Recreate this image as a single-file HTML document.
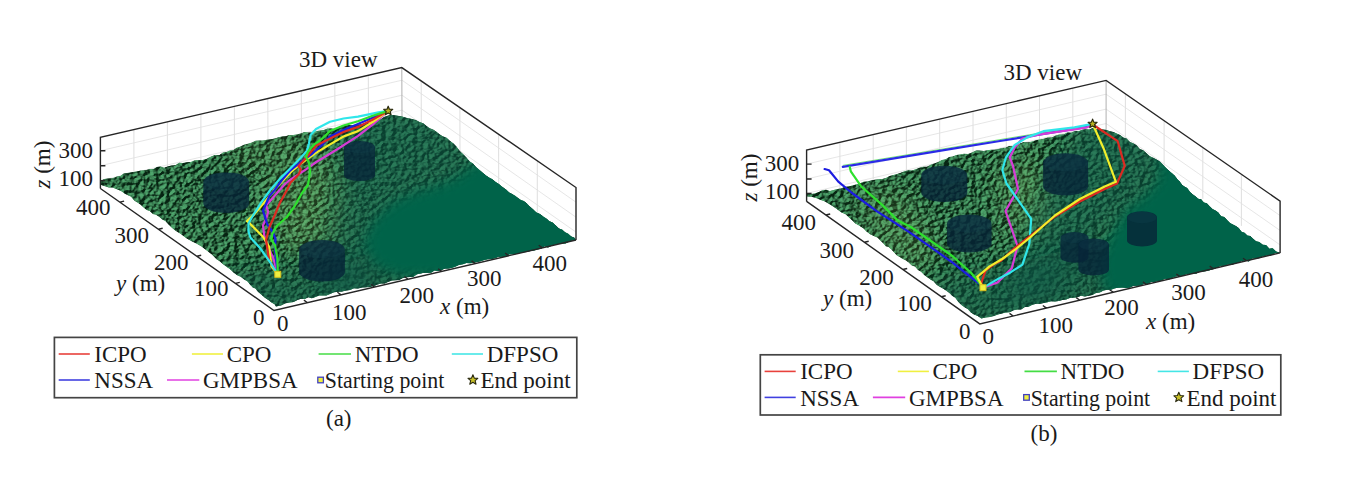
<!DOCTYPE html><html><head><meta charset="utf-8"><style>html,body{margin:0;padding:0;background:#fff;}body{width:1358px;height:482px;overflow:hidden;}svg{display:block;}text{font-family:"Liberation Serif",serif;font-size:23px;fill:#1a1a1a;}</style></head><body>
<svg width="1358" height="482" viewBox="0 0 1358 482">
<rect width="1358" height="482" fill="#fff"/>
<defs>
<filter id="bl6" x="-20%" y="-20%" width="140%" height="140%"><feGaussianBlur stdDeviation="6"/></filter>
<filter id="bl12" x="-30%" y="-30%" width="160%" height="160%"><feGaussianBlur stdDeviation="12"/></filter>
<filter id="tex" x="0" y="0" width="100%" height="100%" color-interpolation-filters="sRGB">
<feTurbulence type="fractalNoise" baseFrequency="0.19 0.26" numOctaves="3" seed="5" result="h"/>
<feDiffuseLighting in="h" surfaceScale="5" diffuseConstant="1.0" lighting-color="#6cc288" result="lit">
<feDistantLight azimuth="210" elevation="38"/>
</feDiffuseLighting>
<feColorMatrix in="lit" type="matrix" values="0.68 0 0 0 0.025  0 0.68 0 0 0.14  0 0 0.68 0 0.07  0 0 0 1 0" result="c"/>
<feGaussianBlur in="c" stdDeviation="0.45"/>
</filter>
</defs>
<polygon points="100.4,188.5 100.4,137.4 401.8,67.6 402,118" fill="#fff"/>
<path d="M133.9 180.7L133.9 129.6M167.4 172.8L167.4 121.9M200.9 165L200.9 114.1M234.4 157.2L234.4 106.4M268 149.3L267.8 98.6M301.5 141.5L301.3 90.9M335 133.7L334.8 83.1M368.5 125.8L368.3 75.4M421.3 131.6L421.2 80.9M460 158.7L459.9 107.6M498.7 185.8L498.6 134.2M537.3 212.9L537.3 160.9" stroke="#d6d6d6" stroke-width="0.8" fill="none"/>
<path d="M100.4 180.6L402 110.1L576 232.1M100.4 165.7L402 95.2L576 217.2M100.4 150.7L402 80.2L576 202.2" stroke="#e0e0e0" stroke-width="0.8" fill="none"/>
<path d="M402 118L401.8 67.6" stroke="#b0b0b0" stroke-width="1"/>
<clipPath id="ca"><polygon points="100.4,181 104.2,178.9 108,178.5 112.5,178.3 117,176.5 120.3,175.9 123.7,173.6 127,173 131.8,172.3 136.5,171.6 141,170.6 145.5,170.2 150,169 153.5,169.1 157,167.1 160.6,166.4 164.1,167.7 167.6,166.4 171.4,165.4 175.3,165.3 179.2,162.8 183,163 186.9,162.2 190.9,162.1 194.9,160.3 198.8,160.2 202.5,160.1 206.3,158.9 210,157 214.8,155 219.5,155 223,152.5 226.5,152.1 230,150.5 233.3,150.2 236.7,147.7 240,146.7 244,144.7 248,143.7 252,142.5 255.6,140.8 259.2,140.6 262.8,140.5 266.9,139.7 270.9,139.2 275,138.5 278.5,137.2 282.1,136.4 285.6,136.3 289.4,135.1 293.2,135 297,134.5 300.8,133.4 304.6,132.1 308.4,132.5 312.3,132.6 316.1,131.3 320,130.5 323.8,130.1 327.5,128.4 331.3,128.4 335.2,128.9 339.1,127.9 343,126.5 346.7,125.2 350.3,125.1 354,125 358,124.8 362,124.1 366,123 369.6,123.1 373.3,121.2 376.9,120.5 380.4,119.5 384,117 390.6,114.8 396,115.5 402,116.5 407,118.1 412,119 415.7,120 419.5,122 423.2,123.2 426.5,126.1 429.7,128.2 433,129.5 436.4,131.8 439.8,134.4 443.2,136.5 446.6,137.7 450,141 453.2,143.2 456.4,146.5 459.7,150.9 463,154 466.4,157.5 469.7,161.4 472.9,163.5 476,167 479.5,170.1 483,173 486,175.6 489,177.6 492,179.1 495,181.5 498.8,184.1 502.5,187 506.3,189.7 509.2,192.4 512.1,193.9 515.1,195.7 518,198 520.9,200.1 523.8,201.1 526.6,203.2 529.5,206.3 533,209.3 536.5,212.5 540,214 543.2,216.6 546.3,218.6 549.5,221.2 552.6,222.5 555.8,225.4 558.9,228.5 562,229.5 565.1,232.2 568.2,233.7 571.3,236.5 574.4,237.8 576,240 572.5,240.2 569,241.7 565.5,243.4 562,243.4 558.5,244 555,244.4 551.5,245.8 548,247.5 544.5,246.2 541,248.7 537.5,249.6 534,250.6 530.5,251.1 527,252.1 523.5,252.2 520,253 516.4,253.9 512.9,254.3 509.3,254.2 505.7,256.8 502.1,256.8 498.6,256.8 495,258.2 491.4,258.9 487.9,259.3 484.3,260 480.7,261.2 477.1,262.1 473.6,262.8 470,263.2 466.4,263 462.9,264.2 459.3,264.8 455.7,266.5 452.1,267.8 448.6,268.4 445,268.5 441.5,270 438,270.9 434.5,270.5 431,272.7 427.5,273.1 424,272.7 420.5,273.4 417,274.2 413.5,276.7 410,277 406.4,277.3 402.8,277.9 399.2,280 395.6,280.3 392,280.6 388.4,281.7 384.8,283.4 381.2,283.5 377.6,284.6 374,286 370,287.1 366,287.2 362,287.6 358,288.6 354,288.3 350,290 346,290.6 342,291.4 338,291.7 334,292.3 330,294 326.4,295.6 322.8,295.5 319.2,295.5 315.5,297.1 311.9,298.3 308.3,297.2 304.7,299 301,298.8 297.4,300 293.7,302.1 290,302.5 285.5,303.3 281,305.5 276,306.5 274.6,304.2 271.5,302.6 268.4,300.1 264.9,297.7 261.5,294.7 258,291.8 255.4,288.6 252.8,287.6 250.2,284.7 247.6,281.4 244.2,279.4 240.7,276.7 237.3,275.2 233.8,272.8 230.4,269.4 226.9,266.9 223.4,264.5 220,261.4 216.5,259.2 211.9,254.6 206.7,250.5 201.5,246.5 196.3,243.5 191.1,241.1 186,238 180.8,233.9 175.6,230.8 172.1,227.9 168.5,224.5 165.3,221 162.2,219.5 159.1,216.7 156,214.8 152.9,214 149.8,211.1 146.7,210.1 143.6,207.4 140.4,204.5 137.3,202.4 134.2,200.4 131.1,196.8 124.9,193.7 121.8,191.4 118.7,190 112.4,187.4 108.7,187.6 104.9,186.3 101.2,185 100.4,184"/></clipPath>
<g clip-path="url(#ca)">
<polygon points="100.4,181 104.2,178.9 108,178.5 112.5,178.3 117,176.5 120.3,175.9 123.7,173.6 127,173 131.8,172.3 136.5,171.6 141,170.6 145.5,170.2 150,169 153.5,169.1 157,167.1 160.6,166.4 164.1,167.7 167.6,166.4 171.4,165.4 175.3,165.3 179.2,162.8 183,163 186.9,162.2 190.9,162.1 194.9,160.3 198.8,160.2 202.5,160.1 206.3,158.9 210,157 214.8,155 219.5,155 223,152.5 226.5,152.1 230,150.5 233.3,150.2 236.7,147.7 240,146.7 244,144.7 248,143.7 252,142.5 255.6,140.8 259.2,140.6 262.8,140.5 266.9,139.7 270.9,139.2 275,138.5 278.5,137.2 282.1,136.4 285.6,136.3 289.4,135.1 293.2,135 297,134.5 300.8,133.4 304.6,132.1 308.4,132.5 312.3,132.6 316.1,131.3 320,130.5 323.8,130.1 327.5,128.4 331.3,128.4 335.2,128.9 339.1,127.9 343,126.5 346.7,125.2 350.3,125.1 354,125 358,124.8 362,124.1 366,123 369.6,123.1 373.3,121.2 376.9,120.5 380.4,119.5 384,117 390.6,114.8 396,115.5 402,116.5 407,118.1 412,119 415.7,120 419.5,122 423.2,123.2 426.5,126.1 429.7,128.2 433,129.5 436.4,131.8 439.8,134.4 443.2,136.5 446.6,137.7 450,141 453.2,143.2 456.4,146.5 459.7,150.9 463,154 466.4,157.5 469.7,161.4 472.9,163.5 476,167 479.5,170.1 483,173 486,175.6 489,177.6 492,179.1 495,181.5 498.8,184.1 502.5,187 506.3,189.7 509.2,192.4 512.1,193.9 515.1,195.7 518,198 520.9,200.1 523.8,201.1 526.6,203.2 529.5,206.3 533,209.3 536.5,212.5 540,214 543.2,216.6 546.3,218.6 549.5,221.2 552.6,222.5 555.8,225.4 558.9,228.5 562,229.5 565.1,232.2 568.2,233.7 571.3,236.5 574.4,237.8 576,240 572.5,240.2 569,241.7 565.5,243.4 562,243.4 558.5,244 555,244.4 551.5,245.8 548,247.5 544.5,246.2 541,248.7 537.5,249.6 534,250.6 530.5,251.1 527,252.1 523.5,252.2 520,253 516.4,253.9 512.9,254.3 509.3,254.2 505.7,256.8 502.1,256.8 498.6,256.8 495,258.2 491.4,258.9 487.9,259.3 484.3,260 480.7,261.2 477.1,262.1 473.6,262.8 470,263.2 466.4,263 462.9,264.2 459.3,264.8 455.7,266.5 452.1,267.8 448.6,268.4 445,268.5 441.5,270 438,270.9 434.5,270.5 431,272.7 427.5,273.1 424,272.7 420.5,273.4 417,274.2 413.5,276.7 410,277 406.4,277.3 402.8,277.9 399.2,280 395.6,280.3 392,280.6 388.4,281.7 384.8,283.4 381.2,283.5 377.6,284.6 374,286 370,287.1 366,287.2 362,287.6 358,288.6 354,288.3 350,290 346,290.6 342,291.4 338,291.7 334,292.3 330,294 326.4,295.6 322.8,295.5 319.2,295.5 315.5,297.1 311.9,298.3 308.3,297.2 304.7,299 301,298.8 297.4,300 293.7,302.1 290,302.5 285.5,303.3 281,305.5 276,306.5 274.6,304.2 271.5,302.6 268.4,300.1 264.9,297.7 261.5,294.7 258,291.8 255.4,288.6 252.8,287.6 250.2,284.7 247.6,281.4 244.2,279.4 240.7,276.7 237.3,275.2 233.8,272.8 230.4,269.4 226.9,266.9 223.4,264.5 220,261.4 216.5,259.2 211.9,254.6 206.7,250.5 201.5,246.5 196.3,243.5 191.1,241.1 186,238 180.8,233.9 175.6,230.8 172.1,227.9 168.5,224.5 165.3,221 162.2,219.5 159.1,216.7 156,214.8 152.9,214 149.8,211.1 146.7,210.1 143.6,207.4 140.4,204.5 137.3,202.4 134.2,200.4 131.1,196.8 124.9,193.7 121.8,191.4 118.7,190 112.4,187.4 108.7,187.6 104.9,186.3 101.2,185 100.4,184" fill="#2a7444"/>
<rect x="90" y="60" width="490" height="270" fill="#000" filter="url(#tex)"/>
<polygon points="265,175 330,150 350,190 340,250 290,255 265,220" fill="#c8dc70" opacity="0.13" filter="url(#bl12)"/>
<polygon points="225,150 300,132 310,150 240,170" fill="#c8dc70" opacity="0.13" filter="url(#bl12)"/>
<polygon points="345,105 430,105 490,160 470,200 400,240 360,300 320,300 335,200" fill="#08584a" opacity="0.55" filter="url(#bl12)"/>
<polygon points="215,300 222,272 260,264 300,268 340,262 380,250 420,245 460,250 460,300 280,325" fill="#085444" opacity="0.55" filter="url(#bl12)"/>
<polygon points="468,168 480,160 520,170 600,215 600,262 450,290 440,276 400,276 375,265 364,242 375,220 392,203 415,193 440,185 458,177" fill="#03634a" filter="url(#bl6)"/>
</g>
<path d="M203.3 181.7A22.9 9.3 0 0 1 249.1 181.7L249.1 203.7A22.9 9.3 0 0 1 203.3 203.7Z" fill="#062438" opacity="0.8"/>
<ellipse cx="226.2" cy="181.7" rx="22.4" ry="9" fill="#184a58" opacity="0.22"/>
<path d="M344 147.3A15.5 6.3 0 0 1 375 147.3L375 174.7A15.5 6.3 0 0 1 344 174.7Z" fill="#062438" opacity="0.8"/>
<ellipse cx="359.5" cy="147.3" rx="15" ry="6" fill="#184a58" opacity="0.22"/>
<path d="M299.1 249.3A22.9 9.3 0 0 1 344.9 249.3L344.9 272.2A22.9 9.3 0 0 1 299.1 272.2Z" fill="#062438" opacity="0.8"/>
<ellipse cx="322" cy="249.3" rx="22.4" ry="9" fill="#184a58" opacity="0.22"/>
<polyline points="277.8,274.3 273.2,258 265.1,240 264,233.6 263,225.3 266.1,219.1 268.2,211.8 266.1,205.6 279.6,190 285.6,183.5 290.4,179.6 306,169.3 316.3,162 326.7,155.8 340,147.5 358,135.8 372.6,124.7 388.2,110.9" fill="none" stroke="#d63cd6" stroke-width="2.2" stroke-linejoin="round" stroke-linecap="round"/>
<polyline points="277.8,274.3 271.5,266.4 269,246.5 263,236.7 255.8,229.4 249.5,223.2 247,221.1 254.7,213.9 260,207.6 274.4,190 282,181.5 291,172 301,163.5 310,157 316.3,152.6 326.7,146.4 343.5,136.5 358,131.1 372.6,122 388.2,110.9" fill="none" stroke="#f2ee2c" stroke-width="2.2" stroke-linejoin="round" stroke-linecap="round"/>
<polyline points="277.8,274.3 274.9,248.1 275.5,238.8 272.4,231.5 267.2,224.3 265.1,217 263,210.8 269.3,196.2 274,190.8 282,180 290.4,170.3 300.8,162 311.1,154.7 321.5,145.5 330,136.5 343.5,130 358,124 372,118 388.2,110.9" fill="none" stroke="#1c1ce0" stroke-width="2.2" stroke-linejoin="round" stroke-linecap="round"/>
<polyline points="277.8,274.3 269,259.8 266.1,240 269.3,227.4 274.4,216 279.6,203.5 286.9,190 290.4,182.8 298.7,174.4 300.8,169.3 298.5,166 306,158 316.3,145.4 326.7,140.2 343.5,132 358,126.9 372,120 388.2,110.9" fill="none" stroke="#dc2a22" stroke-width="2.2" stroke-linejoin="round" stroke-linecap="round"/>
<polyline points="277.8,274.3 270.7,263 260,248 250.6,237.8 248.5,231.5 248.5,223.2 254.7,212.8 262,201.4 270.3,190 280,178.6 290.4,168.2 300.8,157.8 307,150.6 309,143.3 310.6,135 316,129 330,121.8 343.5,118.5 358,116.7 378.4,112.3 388.2,110.9" fill="none" stroke="#30e6ea" stroke-width="2.2" stroke-linejoin="round" stroke-linecap="round"/>
<polyline points="277.8,274.3 277.3,258 274.9,244.8 271.3,240 272.4,233.6 276.5,226.3 286.9,217 295,205.6 298,200 302,193 308,185 310.1,171.3 309,163 306,156.8 308,151.6 314.3,144.3 321.5,139.2 330,131 343.5,125.5 358,121.3 372,116 388.2,110.9" fill="none" stroke="#2ee02e" stroke-width="2.2" stroke-linejoin="round" stroke-linecap="round"/>
<rect x="274.8" y="271.3" width="6" height="6" fill="#f0f040" stroke="#d8c020" stroke-width="1"/>
<polygon points="388.2,106.2 389.4,109.2 392.7,109.4 390.2,111.6 391,114.7 388.2,113 385.4,114.7 386.2,111.6 383.7,109.4 387,109.2" fill="#b8b020" stroke="#2a2a10" stroke-width="1.2" stroke-linejoin="round"/>
<path d="M100.4 188.5L100.4 137.4L401.8 67.6L576 187.5L576 240M100.4 188.5L274 310.5L576 240M100.4 180.6h5M100.4 165.7h5M100.4 150.7h5M307.6 302.7l-3.7 -2.6M341.1 294.8l-3.7 -2.6M374.7 287l-3.7 -2.6M408.2 279.2l-3.7 -2.6M441.8 271.3l-3.7 -2.6M475.3 263.5l-3.7 -2.6M508.9 255.7l-3.7 -2.6M542.4 247.8l-3.7 -2.6M235.4 283.4l4.4 -1M196.8 256.3l4.4 -1M158.3 229.2l4.4 -1M119.7 202.1l4.4 -1" stroke="#262626" stroke-width="1.4" fill="none"/>
<text x="299" y="67">3D view</text>
<text x="58.5" y="157.5">300</text>
<text x="58.5" y="185.6">100</text>
<text x="76" y="215">400</text>
<text x="114.5" y="243">300</text>
<text x="154" y="269.5">200</text>
<text x="194" y="296">100</text>
<text x="253" y="324.7">0</text>
<text x="277" y="331.4">0</text>
<text x="332" y="319.5">100</text>
<text x="399.5" y="303">200</text>
<text x="467" y="286">300</text>
<text x="532.5" y="271">400</text>
<text x="116" y="290.5"><tspan font-style="italic">y</tspan> (m)</text>
<text x="440" y="314"><tspan font-style="italic">x</tspan> (m)</text>
<text transform="translate(50 188.5) rotate(-90)"><tspan font-style="italic">z</tspan> (m)</text>
<polygon points="806.6,201.4 806.6,150 1106.1,80.4 1106.1,131.5" fill="#fff"/>
<path d="M839.9 193.6L839.9 142.3M873.2 185.9L873.2 134.5M906.4 178.1L906.4 126.8M939.7 170.3L939.7 119.1M973 162.6L973 111.3M1006.3 154.8L1006.3 103.6M1039.5 147L1039.5 95.9M1072.8 139.3L1072.8 88.1M1125.4 145L1125.4 93.8M1164.1 172L1164.1 120.6M1202.8 198.9L1202.8 147.5M1241.4 225.9L1241.4 174.3" stroke="#d6d6d6" stroke-width="0.8" fill="none"/>
<path d="M806.6 193.4L1106.1 123.5L1280.1 244.9M806.6 179L1106.1 109.1L1280.1 230.5M806.6 164.1L1106.1 94.2L1280.1 215.6" stroke="#e0e0e0" stroke-width="0.8" fill="none"/>
<path d="M1106.1 131.5L1106.1 80.4" stroke="#b0b0b0" stroke-width="1"/>
<clipPath id="cb"><polygon points="806.6,193.5 810.6,194 814.7,193.4 818.7,191.9 822.4,190.3 826.1,189.8 829.9,190.9 833.6,190.1 837.3,189 841,188.5 844.8,186.7 848.5,186.5 852.3,185.6 856,184.4 859.7,183.6 863.5,181.8 867.2,181.4 871,180.4 874.7,179.7 878.4,179.3 882.2,178.9 885.9,177.9 889.7,176 893.4,175 897.1,174 900.8,172.7 904.6,171.2 908.3,170.3 912,170.4 915.7,169.2 919.5,167.8 923.2,166.8 927,166.8 930.7,164.8 934.4,163.5 938.2,162.1 941.9,160 945.6,159.2 949.2,157 952.8,156.5 956.4,154.9 960,154.5 964,153.7 968,154 972,152.5 976,150.6 980,150.5 983.7,150.9 987.3,150.3 991,149.8 994.7,149.7 998.3,149 1002,148 1005.6,147.7 1009.2,145.9 1012.8,146.4 1016.4,145.4 1020,143.5 1024,142 1028,142.5 1032,141.6 1036,140.3 1040,139.6 1043.9,138.7 1047.9,137.6 1051.8,137.5 1055.8,135.6 1059.7,134.6 1063.5,134.4 1067.3,132.5 1071.2,132.7 1075,131 1078.6,131.3 1082.2,129.7 1085.7,129.3 1089.3,129.5 1092.9,128 1096.5,129 1100,129 1106.6,130 1109.9,131.2 1113.3,131.9 1116.7,133.4 1120,135 1123.3,137.5 1126.6,138.4 1129.9,142 1133.2,143.2 1136.5,145.2 1139.8,149.1 1143.2,150.3 1146.5,153.2 1149.8,156.3 1153.2,157.8 1156.5,159.4 1159.8,161.5 1162.3,164 1164.8,166.8 1167.3,169.2 1169.8,171.5 1172.3,173.6 1174.8,175.8 1177.2,179 1179.7,181.4 1182.2,184.9 1184.7,186.7 1187.2,188 1189.7,191.4 1192.5,194.2 1195.4,196.2 1198.2,198.7 1201.1,199.2 1203.9,202.6 1206.8,203.2 1209.6,206.3 1212.5,208.9 1215.4,210.4 1218.3,212.6 1221.2,216.3 1224.2,216.9 1227.1,220.1 1230,223.1 1232.9,224.6 1235.8,226.1 1238.7,228.1 1241.6,231.7 1244.5,232.7 1247.3,235.5 1250.2,236 1253.1,238.8 1256,241.2 1259.3,242.1 1262.7,244.8 1266,245.1 1269.4,248.7 1272.7,248.2 1276.1,251.4 1279.4,252.5 1280.1,252.9 1276.6,252.7 1273.1,254 1269.7,256.1 1266.2,255.4 1262.7,256.3 1259.2,258.3 1255.7,258.4 1252.2,258.5 1248.8,261.4 1245.3,260.4 1241.8,260.9 1238.3,262.4 1234.8,263.8 1231.3,264.9 1227.9,264.4 1224.4,265.7 1220.9,265.8 1217.4,267.6 1213.9,269.1 1210.4,269.9 1207,271 1203.5,271.5 1200,271.8 1196.5,273.4 1193,273.8 1189.5,274.1 1186,274.3 1182.5,276.1 1179,276.1 1175.5,276.4 1172,278 1168.5,279.7 1165,278.8 1161.5,280.6 1158,281 1154.5,282 1151,282 1147.5,284.6 1144,283.8 1140.5,285.4 1137,285.8 1133.5,285.7 1130,287.5 1126.2,288.1 1122.4,287.6 1118.6,287.8 1114.8,288.2 1111,289.7 1107.3,289.8 1103.5,290.5 1099.8,292.5 1096,293.1 1092.3,294.9 1088.5,295.7 1084.8,296.6 1081,295.8 1077.3,297.2 1073.6,297.7 1069.8,298 1066.1,299.4 1062.4,300.1 1058.7,301.1 1054.9,301.6 1051.2,301.2 1047.5,302.2 1043.7,303.1 1040,303.7 1036.2,303.7 1032.4,304.8 1028.6,306.7 1024.8,307.1 1021.1,309.6 1017.3,309.6 1013.5,310.3 1009.7,312.3 1005.8,312.5 1001.8,313.6 997.9,314.5 993.9,316.1 990,317 985.7,317.6 981.4,318.4 977.7,316.1 974,314.6 970.9,312.4 967.7,309 964.6,307.2 961.5,305 958.4,302 955.3,297.8 952.2,295.8 949.1,292.7 946,290.4 942.9,288.6 939.7,286.8 936.6,284.8 933.5,281.3 930.4,279.6 927.3,277.3 924.2,274.9 921.1,271.7 918,269.9 914.9,266.5 911.8,265.6 908.7,262.4 905.6,260.2 902.4,258.7 899.3,256.8 896.7,255.3 894,252.2 891.4,249.5 888.6,246.9 885.8,246.3 883,243.1 880.3,240.6 877.5,237.6 874.8,236.5 870.6,234.4 866.4,231.5 863.6,228.4 860.9,226.7 858.1,224.9 855.3,223.4 852.6,220.8 849.8,218.2 845.6,214.2 841.5,212.4 837.4,209.4 833.2,206.6 829.1,203.9 825,201.6 820.8,199.9 816.6,198.3 811.6,196.8 806.6,196.5"/></clipPath>
<g clip-path="url(#cb)">
<polygon points="806.6,193.5 810.6,194 814.7,193.4 818.7,191.9 822.4,190.3 826.1,189.8 829.9,190.9 833.6,190.1 837.3,189 841,188.5 844.8,186.7 848.5,186.5 852.3,185.6 856,184.4 859.7,183.6 863.5,181.8 867.2,181.4 871,180.4 874.7,179.7 878.4,179.3 882.2,178.9 885.9,177.9 889.7,176 893.4,175 897.1,174 900.8,172.7 904.6,171.2 908.3,170.3 912,170.4 915.7,169.2 919.5,167.8 923.2,166.8 927,166.8 930.7,164.8 934.4,163.5 938.2,162.1 941.9,160 945.6,159.2 949.2,157 952.8,156.5 956.4,154.9 960,154.5 964,153.7 968,154 972,152.5 976,150.6 980,150.5 983.7,150.9 987.3,150.3 991,149.8 994.7,149.7 998.3,149 1002,148 1005.6,147.7 1009.2,145.9 1012.8,146.4 1016.4,145.4 1020,143.5 1024,142 1028,142.5 1032,141.6 1036,140.3 1040,139.6 1043.9,138.7 1047.9,137.6 1051.8,137.5 1055.8,135.6 1059.7,134.6 1063.5,134.4 1067.3,132.5 1071.2,132.7 1075,131 1078.6,131.3 1082.2,129.7 1085.7,129.3 1089.3,129.5 1092.9,128 1096.5,129 1100,129 1106.6,130 1109.9,131.2 1113.3,131.9 1116.7,133.4 1120,135 1123.3,137.5 1126.6,138.4 1129.9,142 1133.2,143.2 1136.5,145.2 1139.8,149.1 1143.2,150.3 1146.5,153.2 1149.8,156.3 1153.2,157.8 1156.5,159.4 1159.8,161.5 1162.3,164 1164.8,166.8 1167.3,169.2 1169.8,171.5 1172.3,173.6 1174.8,175.8 1177.2,179 1179.7,181.4 1182.2,184.9 1184.7,186.7 1187.2,188 1189.7,191.4 1192.5,194.2 1195.4,196.2 1198.2,198.7 1201.1,199.2 1203.9,202.6 1206.8,203.2 1209.6,206.3 1212.5,208.9 1215.4,210.4 1218.3,212.6 1221.2,216.3 1224.2,216.9 1227.1,220.1 1230,223.1 1232.9,224.6 1235.8,226.1 1238.7,228.1 1241.6,231.7 1244.5,232.7 1247.3,235.5 1250.2,236 1253.1,238.8 1256,241.2 1259.3,242.1 1262.7,244.8 1266,245.1 1269.4,248.7 1272.7,248.2 1276.1,251.4 1279.4,252.5 1280.1,252.9 1276.6,252.7 1273.1,254 1269.7,256.1 1266.2,255.4 1262.7,256.3 1259.2,258.3 1255.7,258.4 1252.2,258.5 1248.8,261.4 1245.3,260.4 1241.8,260.9 1238.3,262.4 1234.8,263.8 1231.3,264.9 1227.9,264.4 1224.4,265.7 1220.9,265.8 1217.4,267.6 1213.9,269.1 1210.4,269.9 1207,271 1203.5,271.5 1200,271.8 1196.5,273.4 1193,273.8 1189.5,274.1 1186,274.3 1182.5,276.1 1179,276.1 1175.5,276.4 1172,278 1168.5,279.7 1165,278.8 1161.5,280.6 1158,281 1154.5,282 1151,282 1147.5,284.6 1144,283.8 1140.5,285.4 1137,285.8 1133.5,285.7 1130,287.5 1126.2,288.1 1122.4,287.6 1118.6,287.8 1114.8,288.2 1111,289.7 1107.3,289.8 1103.5,290.5 1099.8,292.5 1096,293.1 1092.3,294.9 1088.5,295.7 1084.8,296.6 1081,295.8 1077.3,297.2 1073.6,297.7 1069.8,298 1066.1,299.4 1062.4,300.1 1058.7,301.1 1054.9,301.6 1051.2,301.2 1047.5,302.2 1043.7,303.1 1040,303.7 1036.2,303.7 1032.4,304.8 1028.6,306.7 1024.8,307.1 1021.1,309.6 1017.3,309.6 1013.5,310.3 1009.7,312.3 1005.8,312.5 1001.8,313.6 997.9,314.5 993.9,316.1 990,317 985.7,317.6 981.4,318.4 977.7,316.1 974,314.6 970.9,312.4 967.7,309 964.6,307.2 961.5,305 958.4,302 955.3,297.8 952.2,295.8 949.1,292.7 946,290.4 942.9,288.6 939.7,286.8 936.6,284.8 933.5,281.3 930.4,279.6 927.3,277.3 924.2,274.9 921.1,271.7 918,269.9 914.9,266.5 911.8,265.6 908.7,262.4 905.6,260.2 902.4,258.7 899.3,256.8 896.7,255.3 894,252.2 891.4,249.5 888.6,246.9 885.8,246.3 883,243.1 880.3,240.6 877.5,237.6 874.8,236.5 870.6,234.4 866.4,231.5 863.6,228.4 860.9,226.7 858.1,224.9 855.3,223.4 852.6,220.8 849.8,218.2 845.6,214.2 841.5,212.4 837.4,209.4 833.2,206.6 829.1,203.9 825,201.6 820.8,199.9 816.6,198.3 811.6,196.8 806.6,196.5" fill="#2a7444"/>
<rect x="795" y="60" width="490" height="270" fill="#000" filter="url(#tex)"/>
<polygon points="850,195 900,190 935,240 930,270 890,255" fill="#c8dc70" opacity="0.13" filter="url(#bl12)"/>
<polygon points="995,165 1040,160 1060,230 1010,240" fill="#c8dc70" opacity="0.13" filter="url(#bl12)"/>
<polygon points="1080,115 1140,120 1185,165 1150,205 1100,240 1050,300 1000,300 1040,200" fill="#08584a" opacity="0.55" filter="url(#bl12)"/>
<polygon points="925,305 932,278 975,266 1015,264 1055,252 1095,246 1140,250 1140,310 990,335" fill="#085444" opacity="0.55" filter="url(#bl12)"/>
<polygon points="1160,145 1230,170 1300,225 1300,262 1130,298 1105,292 1100,262 1110,235 1125,210 1145,195 1158,180" fill="#03634a" filter="url(#bl6)"/>
</g>
<path d="M921.3 175.1A23 9.3 0 0 1 967.3 175.1L967.3 192.7A23 9.3 0 0 1 921.3 192.7Z" fill="#062438" opacity="0.8"/>
<ellipse cx="944.3" cy="175.1" rx="22.5" ry="9" fill="#184a58" opacity="0.22"/>
<path d="M1043.1 162.4A22.5 9.1 0 0 1 1088.1 162.4L1088.1 186.4A22.5 9.1 0 0 1 1043.1 186.4Z" fill="#062438" opacity="0.8"/>
<ellipse cx="1065.6" cy="162.4" rx="22" ry="8.8" fill="#184a58" opacity="0.22"/>
<path d="M947 223.6A22.3 9.1 0 0 1 991.6 223.6L991.6 243.4A22.3 9.1 0 0 1 947 243.4Z" fill="#062438" opacity="0.8"/>
<ellipse cx="969.3" cy="223.6" rx="21.8" ry="8.8" fill="#184a58" opacity="0.22"/>
<path d="M1127 217.4A15 6.1 0 0 1 1157 217.4L1157 240.4A15 6.1 0 0 1 1127 240.4Z" fill="#062438" opacity="0.8"/>
<ellipse cx="1142" cy="217.4" rx="14.5" ry="5.8" fill="#184a58" opacity="0.22"/>
<path d="M1060.5 237.7A14 5.7 0 0 1 1088.5 237.7L1088.5 257A14 5.7 0 0 1 1060.5 257Z" fill="#062438" opacity="0.8"/>
<ellipse cx="1074.5" cy="237.7" rx="13.5" ry="5.4" fill="#184a58" opacity="0.22"/>
<path d="M1078.4 244.6A15.3 6.2 0 0 1 1109 244.6L1109 269.4A15.3 6.2 0 0 1 1078.4 269.4Z" fill="#062438" opacity="0.8"/>
<ellipse cx="1093.7" cy="244.6" rx="14.8" ry="5.9" fill="#184a58" opacity="0.22"/>
<polyline points="842.8,165.4 950,147.8 1000,139.6 1050,131.4 1087,125.4" fill="none" stroke="#3adc3a" stroke-width="1" opacity="0.7"/>
<polyline points="842.8,166.8 950,149.2 1000,141 1050,132.8 1087,126.8 1092.6,123.8" fill="none" stroke="#2a2ae6" stroke-width="2.2" stroke-linejoin="round" stroke-linecap="round"/>
<polyline points="983,287.7 997.6,282.4 1011.8,268.3 1017.5,246 1005.5,211 1018,189 1013,166 1009.8,157.3 1014.8,147.4 1022.2,138.6 1037.2,134.9 1087,127.4 1092.6,123.8" fill="none" stroke="#d63cd6" stroke-width="2.2" stroke-linejoin="round" stroke-linecap="round"/>
<polyline points="983,287.7 987.6,285.1 998,278.9 1010,272.7 1022.4,264.7 1029.4,243.5 1031.2,218.8 1018.8,201.2 1006.5,183.5 1002.3,170 1006,157.3 1014.8,144.9 1027.2,137.4 1043.4,131.2 1074.5,127.4 1092.6,123.8" fill="none" stroke="#30e6ea" stroke-width="2.2" stroke-linejoin="round" stroke-linecap="round"/>
<polyline points="824.6,169 829,170.2 838.3,181.6 852,193 877,211.3 890,219.7 910.8,233.2 931.5,247.7 952.3,262.3 973,278.9 981.3,285.1 983,287.7" fill="none" stroke="#1c1ce0" stroke-width="2.2" stroke-linejoin="round" stroke-linecap="round"/>
<polyline points="849.7,166.8 850.8,171.3 861,186.2 881.6,204.4 897.6,220.4 910.8,227 931.5,241.5 952.3,256 971,272.7 977.2,280 983,287.7" fill="none" stroke="#2ee02e" stroke-width="2.2" stroke-linejoin="round" stroke-linecap="round"/>
<polyline points="983,287.7 981.3,283 985.5,270.6 993.8,264.4 1001.2,260.5 1015.3,247.5 1030,236 1054.9,216.5 1079.8,201.5 1104.7,189 1117,183.5 1124.7,165.9 1117.7,141.2 1096.5,127 1092.6,123.8" fill="none" stroke="#dc2a22" stroke-width="2.2" stroke-linejoin="round" stroke-linecap="round"/>
<polyline points="983,287.7 977.2,276.8 989.6,266.4 1002.1,259 1015.3,249.5 1030,237.5 1054.9,215.5 1079.8,199 1104.7,186.5 1115.9,181.8 1103.5,148.2 1092.6,123.8" fill="none" stroke="#f2ee2c" stroke-width="2.2" stroke-linejoin="round" stroke-linecap="round"/>
<rect x="980" y="284.7" width="6" height="6" fill="#f0f040" stroke="#d8c020" stroke-width="1"/>
<polygon points="1092.6,119.1 1093.8,122.1 1097.1,122.3 1094.6,124.5 1095.4,127.6 1092.6,125.9 1089.8,127.6 1090.6,124.5 1088.1,122.3 1091.4,122.1" fill="#b8b020" stroke="#2a2a10" stroke-width="1.2" stroke-linejoin="round"/>
<path d="M806.6 201.4L806.6 150L1106.1 80.4L1280.1 201.1L1280.1 252.9M806.6 201.4L979.8 323.9L1280.1 252.9M806.6 193.4h5M806.6 179h5M806.6 164.1h5M1013.2 316l-3.7 -2.6M1046.5 308.1l-3.7 -2.6M1079.9 300.2l-3.7 -2.6M1113.3 292.3l-3.7 -2.6M1146.6 284.5l-3.7 -2.6M1180 276.6l-3.7 -2.6M1213.4 268.7l-3.7 -2.6M1246.7 260.8l-3.7 -2.6M941.3 296.7l4.4 -1M902.8 269.5l4.4 -1M864.3 242.2l4.4 -1M825.8 215l4.4 -1" stroke="#262626" stroke-width="1.4" fill="none"/>
<text x="1003.5" y="79.5">3D view</text>
<text x="764.8" y="170.8">300</text>
<text x="765" y="199">100</text>
<text x="781.5" y="229.8">400</text>
<text x="819.5" y="258">300</text>
<text x="859.3" y="284.6">200</text>
<text x="897.3" y="311">100</text>
<text x="959" y="338.5">0</text>
<text x="982.5" y="344">0</text>
<text x="1038.5" y="332.5">100</text>
<text x="1104.3" y="315">200</text>
<text x="1171.3" y="300">300</text>
<text x="1238.7" y="287">400</text>
<text x="823" y="306"><tspan font-style="italic">y</tspan> (m)</text>
<text x="1146" y="329"><tspan font-style="italic">x</tspan> (m)</text>
<text transform="translate(757 201.5) rotate(-90)"><tspan font-style="italic">z</tspan> (m)</text>
<rect x="54.4" y="337.4" width="522.4" height="60.3" fill="#fff" stroke="#444" stroke-width="1.7"/>
<path d="M58.7 354H89.8" stroke="#e8413c" stroke-width="1.6"/>
<text x="94.3" y="361.6">ICPO</text>
<path d="M191.9 354H223" stroke="#f0f040" stroke-width="1.6"/>
<text x="226.7" y="361.6">CPO</text>
<path d="M318.6 354H351" stroke="#44dd44" stroke-width="1.6"/>
<text x="354.7" y="361.6">NTDO</text>
<path d="M451.8 354H483" stroke="#44e6e6" stroke-width="1.6"/>
<text x="486.7" y="361.6">DFPSO</text>
<path d="M58.7 380H89.8" stroke="#4040e0" stroke-width="1.6"/>
<text x="94.3" y="388.4">NSSA</text>
<path d="M167 380H199.3" stroke="#e040e0" stroke-width="1.6"/>
<text x="203" y="388.4">GMPBSA</text>
<rect x="317.8" y="377.2" width="5.6" height="5.6" fill="#f0f040" stroke="#4040c0" stroke-width="1.3"/>
<text x="324.8" y="388.4" textLength="119.5" lengthAdjust="spacingAndGlyphs">Starting point</text>
<polygon points="472.9,374.8 474.3,378.1 477.8,378.4 475.1,380.7 476,384.2 472.9,382.3 469.8,384.2 470.7,380.7 468,378.4 471.5,378.1" fill="#c8c028" stroke="#2a2a10" stroke-width="1.1" stroke-linejoin="round"/>
<text x="480.5" y="388.4">End point</text>
<text x="326" y="425.5">(a)</text>
<rect x="760.3" y="354.8" width="520.5" height="60.2" fill="#fff" stroke="#444" stroke-width="1.7"/>
<path d="M764.6 371.4H795.7" stroke="#e8413c" stroke-width="1.6"/>
<text x="800.2" y="379">ICPO</text>
<path d="M897.8 371.4H928.9" stroke="#f0f040" stroke-width="1.6"/>
<text x="932.6" y="379">CPO</text>
<path d="M1024.5 371.4H1056.9" stroke="#44dd44" stroke-width="1.6"/>
<text x="1060.6" y="379">NTDO</text>
<path d="M1157.7 371.4H1188.9" stroke="#44e6e6" stroke-width="1.6"/>
<text x="1192.6" y="379">DFPSO</text>
<path d="M764.6 397.4H795.7" stroke="#4040e0" stroke-width="1.6"/>
<text x="800.2" y="405.8">NSSA</text>
<path d="M872.9 397.4H905.2" stroke="#e040e0" stroke-width="1.6"/>
<text x="908.9" y="405.8">GMPBSA</text>
<rect x="1023.7" y="394.6" width="5.6" height="5.6" fill="#f0f040" stroke="#4040c0" stroke-width="1.3"/>
<text x="1030.7" y="405.8" textLength="119.5" lengthAdjust="spacingAndGlyphs">Starting point</text>
<polygon points="1178.8,392.2 1180.2,395.5 1183.7,395.8 1181,398.1 1181.9,401.6 1178.8,399.7 1175.7,401.6 1176.6,398.1 1173.9,395.8 1177.4,395.5" fill="#c8c028" stroke="#2a2a10" stroke-width="1.1" stroke-linejoin="round"/>
<text x="1186.4" y="405.8">End point</text>
<text x="1030.5" y="441">(b)</text>
</svg></body></html>
